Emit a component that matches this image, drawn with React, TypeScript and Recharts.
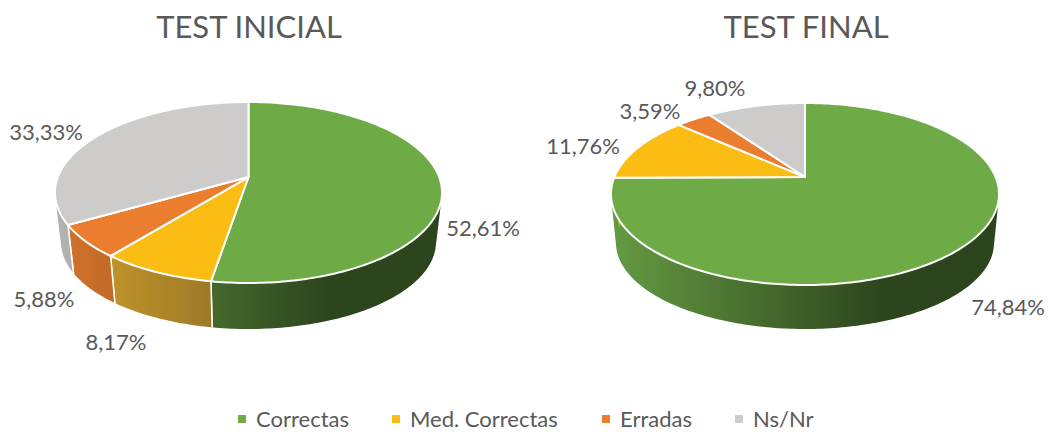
import { PieChart, Pie, Legend } from 'recharts';

const categories = ['Correctas', 'Med. Correctas', 'Erradas', 'Ns/Nr'];
const initialValues = [52.61, 8.17, 5.88, 33.33];
const finalValues = [74.84, 11.76, 3.59, 9.8];

const topColors = ['#6EAB47', '#FBBD14', '#EB7D2F', '#CDCCCB'];
// wall shading, left edge -> darkest point of the gradient
const wallLight = ['#659A42', '#D0A02C', '#D2732A', '#B4B3B2'];
const wallDark = ['#2D451D', '#7A5E22', '#8F4A1A', '#7A7A7A'];

const initialLabelSpots = [[483, 227], [116, 341], [44, 298], [46, 131]];
const finalLabelSpots = [[1008, 306], [583, 145], [650, 110], [715, 87]];
const legendLefts = [0, 154, 364, 497];

type Disc = { cx: number; top: number; rx: number; ry: number; bottomCy: number; bottomRx: number; bottomRy: number; skew: number };

const leftDisc: Disc = { cx: 248.5, top: 192.5, rx: 193.5, ry: 90.5, bottomCy: 242, bottomRx: 187.5, bottomRy: 87, skew: -0.171 };
const rightDisc: Disc = { cx: 805, top: 194, rx: 194, ry: 91, bottomCy: 243, bottomRx: 189, bottomRy: 86, skew: -0.187 };

// projective map of the unit circle, so the apex sits behind the ellipse centre
function project(deg: number, cx: number, cy: number, rx: number, ry: number, d: number) {
  const a = (-deg * Math.PI) / 180;
  const u = Math.cos(a);
  const v = Math.sin(a);
  const den = 1 + d * v;
  return [cx + (rx * u * Math.sqrt(1 - d * d)) / den, cy + (ry * (v + d)) / den];
}

function arcPoints(from: number, to: number, cx: number, cy: number, rx: number, ry: number, d: number) {
  const pts = [];
  const steps = Math.max(2, Math.ceil(Math.abs(to - from)));
  for (let i = 0; i <= steps; i++) {
    pts.push(project(from + ((to - from) * i) / steps, cx, cy, rx, ry, d));
  }
  return pts;
}

const toPath = (pts: number[][]) => pts.map((p, i) => `${i ? 'L' : 'M'}${p[0].toFixed(2)} ${p[1].toFixed(2)}`).join(' ');

// same winding on every triangle, so the nonzero fill is the union of the band
function triangle(a: number[], b: number[], c: number[]) {
  const area = (b[0] - a[0]) * (c[1] - a[1]) - (b[1] - a[1]) * (c[0] - a[0]);
  return toPath(area >= 0 ? [a, b, c] : [a, c, b]) + ' Z';
}

const topShape = (disc: Disc) => (props: any) => {
  const rim = arcPoints(props.startAngle, props.endAngle, disc.cx, disc.top, disc.rx, disc.ry, disc.skew);
  const apex = [disc.cx, disc.top + disc.ry * disc.skew];
  return <path d={toPath([apex, ...rim]) + ' Z'} fill={props.fill} stroke="#fff" strokeWidth={2} strokeLinejoin="round" />;
};

const wallShape = (disc: Disc, id: string) => (props: any) => {
  const i = props.index ?? categories.indexOf(props.name);
  const upper = arcPoints(props.startAngle, props.endAngle, disc.cx, disc.top, disc.rx, disc.ry, disc.skew);
  const lower = arcPoints(props.startAngle, props.endAngle, disc.cx, disc.bottomCy, disc.bottomRx, disc.bottomRy, disc.skew);
  const gid = `${id}-${i}`;
  const band = upper.slice(1).map((p, k) => triangle(upper[k], p, lower[k]) + ' ' + triangle(p, lower[k + 1], lower[k])).join(' ');
  // only the seams on the front half of the disc can be seen
  const seams = [0, upper.length - 1].filter((k) => upper[k][1] > disc.top + 5);
  return (
    <g>
      <defs>
        <linearGradient id={gid} gradientUnits="userSpaceOnUse" x1={disc.cx - disc.rx} x2={disc.cx + disc.rx} y1={0} y2={0}>
          <stop offset="0" stopColor={wallLight[i]} />
          <stop offset="0.7" stopColor={wallDark[i]} />
          <stop offset="1" stopColor={wallDark[i]} />
        </linearGradient>
      </defs>
      <path d={band} fill={`url(#${gid})`} stroke="none" />
      {seams.map((k) => (
        <path key={k} d={toPath([upper[k], lower[k]])} stroke="#fff" strokeWidth={1.5} fill="none" />
      ))}
    </g>
  );
};

const percentLabel = (spots: number[][]) => (props: any) => {
  const spot = spots[props.index];
  return (
    <text x={spot[0]} y={spot[1]} textAnchor="middle" dominantBaseline="central" fontFamily="Lato" fontSize={22} fill="#595959">
      {props.value.toFixed(2).replace('.', ',') + '%'}
    </text>
  );
};

const toRows = (values: number[]) =>
  categories.map((name, i) => ({ name, value: values[i], fill: topColors[i] }));

const legendContent = () => (
  <div style={{ position: 'relative', height: 30, fontFamily: 'Lato', fontSize: 22, lineHeight: '30px', color: '#595959' }}>
    {categories.map((name, i) => (
      <div key={name} style={{ position: 'absolute', left: legendLefts[i], top: 0, whiteSpace: 'nowrap' }}>
        <span style={{ position: 'absolute', left: 0, top: 11, width: 8, height: 8, background: topColors[i] }} />
        <span style={{ marginLeft: 18 }}>{name}</span>
      </div>
    ))}
  </div>
);

const pieBase = { dataKey: 'value', nameKey: 'name', startAngle: 90, endAngle: -270, outerRadius: 190, isAnimationActive: false, labelLine: false };

export default function App() {
  return (
    <div style={{ position: 'absolute', left: 0, top: 0, width: 1049, height: 432, background: '#fff' }}>
      <PieChart width={1049} height={432} margin={{ top: 0, right: 0, bottom: 0, left: 0 }}>
        <text x={249} y={26} textAnchor="middle" dominantBaseline="central" fontFamily="Lato" fontSize={31} fill="#595959">TEST INICIAL</text>
        <text x={806} y={26} textAnchor="middle" dominantBaseline="central" fontFamily="Lato" fontSize={31} fill="#595959">TEST FINAL</text>
        <Pie {...pieBase} data={toRows(initialValues)} cx={leftDisc.cx} cy={leftDisc.top} shape={wallShape(leftDisc, 'wl')} />
        <Pie {...pieBase} data={toRows(finalValues)} cx={rightDisc.cx} cy={rightDisc.top} shape={wallShape(rightDisc, 'wr')} />
        <Pie {...pieBase} data={toRows(initialValues)} cx={leftDisc.cx} cy={leftDisc.top} shape={topShape(leftDisc)} label={percentLabel(initialLabelSpots)} />
        <Pie {...pieBase} data={toRows(finalValues)} cx={rightDisc.cx} cy={rightDisc.top} shape={topShape(rightDisc)} label={percentLabel(finalLabelSpots)} />
        <Legend content={legendContent} wrapperStyle={{ left: 238, top: 404, width: 600, height: 30, bottom: 'auto' }} />
      </PieChart>
    </div>
  );
}
